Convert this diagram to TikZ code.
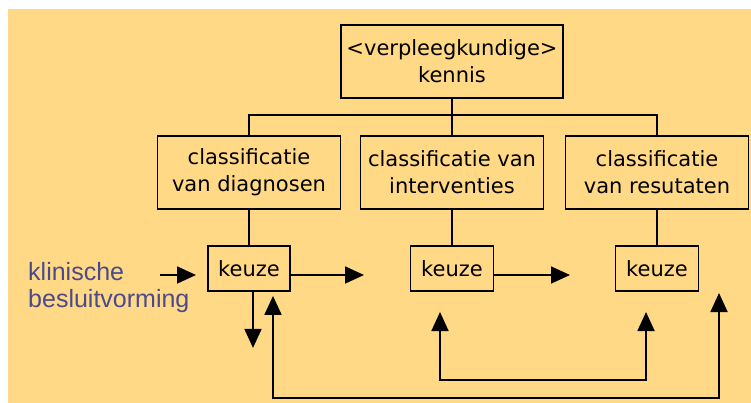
\documentclass[tikz,border=0pt]{standalone}
\usepackage{fontspec}
\setmainfont{DejaVu Sans}
\newfontfamily\klinfont{Liberation Sans}
\usepackage{tikz}
\usepackage{xcolor}
\usetikzlibrary{arrows.meta}
\definecolor{bgyellow}{RGB}{255,217,133}
\definecolor{klinblue}{RGB}{74,74,140}
\tikzset{classbox/.style={draw, line width=1.8pt, minimum width=183pt, minimum height=73pt,
   align=center, inner sep=0pt, font=\fontsize{21}{27}\selectfont},
 keuzebox/.style={draw, line width=1.8pt, minimum width=83pt, minimum height=45pt,
   inner sep=0pt, font=\fontsize{21}{27}\selectfont},
 line/.style={line width=1.8pt},
 arr/.style={line width=1.8pt, -{Triangle[length=19pt,width=17pt]}},
 twoway/.style={line width=1.8pt, {Triangle[length=19pt,width=17pt]}-{Triangle[length=19pt,width=17pt]}},
 }

\begin{document}
\begin{tikzpicture}[x=1pt, y=-1pt]
        \useasboundingbox (0,0) rectangle (751,403);
        \fill[bgyellow] (8,9) rectangle (751,403);

        \node[classbox, minimum width=222pt] (kennis) at (452,61.5) {<verpleegkundige>\\kennis};
        \node[classbox] (diag) at (249,172.5) {classificatie\\van diagnosen};
        \node[classbox] (interv) at (452,172.5) {classificatie van\\interventies};
        \node[classbox] (result) at (657,172.5) {classificatie\\van resutaten};

        \node[keuzebox, minimum width=82pt] (keuze1) at (249,268.5) {keuze};
        \node[keuzebox] (keuze2) at (452,268.5) {keuze};
        \node[keuzebox] (keuze3) at (657,268.5) {keuze};

        \node[anchor=west, align=left, inner sep=0pt, text=klinblue,
              font=\klinfont\fontsize{25}{27}\selectfont] (klin) at (28,288) {klinische\\besluitvorming};

        \draw[line] (kennis) -- (interv);
        \draw[line] (diag.north) -- ++(0,-20) -| (result.north);
        \foreach \i/\k in {diag/keuze1, interv/keuze2, result/keuze3} {
            \draw[line] (\i) -- (\k);
        }

        \coordinate (kin) at (160,275);
        \coordinate (kout1) at (364,275);
        \coordinate (kout2) at (570,275);
        \draw[arr] (kin) -- ++(36,0);
        \draw[arr] ([yshift=-6.5pt]keuze1.east) -- (kout1);
        \draw[arr] ([yshift=-6.5pt]keuze2.east) -- (kout2);
        \draw[arr] ([xshift=4pt]keuze1.south) -- ++(0,56);

        \coordinate (fbL) at ([xshift=24pt,yshift=-4pt]keuze1.south);
        \coordinate (fbR) at (719,293);
        \draw[twoway] (fbL) -- ++(0,102) -| (fbR);

        \coordinate (lp2) at (440,312);
        \coordinate (lp3) at (646,312);
        \draw[twoway] (lp2) -- ++(0,68) -| (lp3);
    \end{tikzpicture}
\end{document}
